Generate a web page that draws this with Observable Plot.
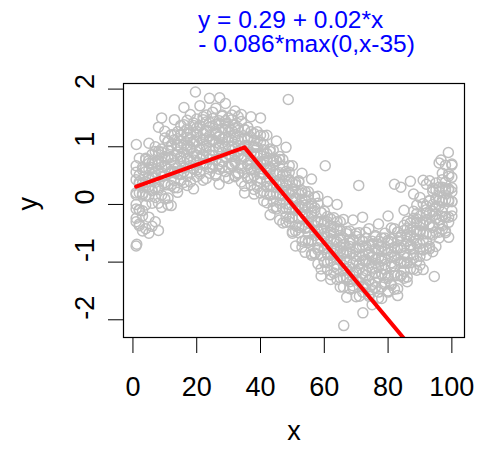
<!DOCTYPE html>
<html><head><meta charset="utf-8">
<script src="https://cdn.jsdelivr.net/npm/d3@7"></script>
<script src="https://cdn.jsdelivr.net/npm/@observablehq/plot@0.6"></script>
<style>body{margin:0;background:#fff} svg{font-family:"Liberation Sans",Arial,sans-serif}</style>
</head><body><div id="chart"></div>
<script>
const xStart = 1;
const yByX = [
[-0.30,0.17,0.43,0.00,0.67],[0.36,-0.09,0.80,-0.37,0.20],[0.16,0.64,-0.11,0.36,-0.46],[0.57,0.15,0.78,-0.42,0.39],[0.14,1.06,0.31,0.71,-0.50],
[0.52,-0.38,0.64,0.24,0.87],[1.00,-0.30,0.46,0.73,0.38],[-0.45,0.69,0.92,0.29,1.34],[-0.05,0.65,0.91,0.48,1.50],[0.83,0.38,1.27,0.10,0.67],
[0.61,1.09,0.34,0.81,-0.01],[1.00,0.58,1.21,-0.02,0.82],[0.55,1.47,0.72,1.12,0.29],[0.91,0.21,1.03,0.63,1.26],[1.37,0.52,0.83,1.10,0.75],
[0.38,1.03,1.26,0.63,1.68],[0.49,0.96,1.22,0.79,1.46],[1.12,0.67,1.56,0.39,0.96],[0.89,1.37,0.62,1.09,0.27],[1.27,0.85,1.48,0.60,1.09],
[0.79,1.71,0.96,1.36,0.53],[1.12,0.42,1.24,0.84,1.47],[1.55,0.70,1.01,1.28,0.93],[0.54,1.19,1.42,0.79,1.84],[0.63,1.10,1.36,0.93,1.60],
[1.23,0.78,1.67,0.50,1.07],[0.97,1.45,0.70,1.17,0.35],[1.32,0.90,1.53,0.65,1.14],[0.83,1.75,1.00,1.40,0.57],[1.15,0.45,1.27,0.87,1.50],
[1.55,0.70,1.01,1.28,0.93],[0.50,1.15,1.38,0.75,1.62],[0.55,1.02,1.28,0.85,1.52],[1.12,0.67,1.56,0.39,0.96],[0.82,1.30,0.55,1.02,0.20],
[1.13,0.71,1.34,0.46,0.95],[0.60,1.52,0.77,1.17,0.34],[0.88,0.18,1.00,0.60,1.23],[1.26,0.41,0.72,0.99,0.64],[0.20,0.85,1.08,0.45,1.50],
[0.22,0.69,0.95,0.52,1.19],[0.76,0.31,1.20,0.03,0.60],[0.44,0.92,0.17,0.64,-0.18],[0.73,0.31,0.94,0.06,0.55],[0.18,1.10,0.35,0.75,-0.08],
[0.43,-0.27,0.55,0.15,0.78],[0.78,-0.07,0.24,0.51,0.16],[-0.31,0.34,0.57,-0.06,0.99],[-0.30,0.17,0.43,0.00,0.67],[0.23,-0.22,0.67,-0.50,0.07],
[-0.10,0.38,-0.37,0.10,-0.72],[0.18,-0.24,0.39,-0.49,0.00],[-0.38,0.54,-0.21,0.19,-0.64],[-0.13,-0.83,-0.01,-0.41,0.22],[0.22,-0.63,-0.32,-0.05,-0.40],
[-0.86,-0.21,0.02,-0.61,0.44],[-0.84,-0.37,-0.11,-0.54,0.13],[-0.30,-0.75,0.14,-1.03,-0.46],[-0.62,-0.14,-0.89,-0.42,-1.24],[-0.33,-0.75,-0.12,-1.00,-0.51],
[-0.87,0.05,-0.70,-0.30,-1.13],[-0.60,-1.30,-0.48,-0.88,-0.25],[-0.23,-1.08,-0.77,-0.50,-0.85],[-1.30,-0.65,-0.42,-1.05,0.00],[-1.27,-0.80,-0.54,-0.97,-0.30],
[-0.70,-1.15,-0.26,-1.43,-0.86],[-0.99,-0.51,-1.26,-0.79,-1.61],[-0.67,-1.09,-0.46,-1.34,-0.85],[-1.19,-0.27,-1.02,-0.62,-1.45],[-0.90,-1.60,-0.78,-1.18,-0.55],
[-0.49,-1.34,-1.03,-0.76,-1.11],[-1.52,-0.87,-0.64,-1.27,-0.22],[-1.45,-0.98,-0.72,-1.15,-0.48],[-0.86,-1.31,-0.42,-1.59,-1.02],[-1.12,-0.64,-1.39,-0.92,-1.74],
[-0.77,-1.19,-0.56,-1.44,-0.95],[-1.26,-0.34,-1.09,-0.69,-1.52],[-0.93,-1.63,-0.81,-1.21,-0.58],[-0.50,-1.35,-1.04,-0.77,-1.12],[-1.50,-0.85,-0.62,-1.25,-0.20],
[-1.38,-0.91,-0.65,-1.08,-0.41],[-0.74,-1.19,0.35,-1.47,-0.90],[-0.96,-0.48,-1.23,-0.76,-1.58],[-0.57,-0.99,0.30,-1.24,-0.75],[-1.02,-0.10,-0.85,-0.45,-1.28],
[-0.64,-1.34,-0.52,-0.92,-0.29],[0.40,-1.01,-0.70,-0.43,-0.78],[-1.12,-0.47,-0.24,-0.87,0.18],[-0.98,-0.51,-0.25,-0.68,-0.01],[-0.32,-0.77,0.12,-1.05,-0.48],
[-0.51,0.42,-0.78,-0.31,-1.13],[-0.09,-0.51,0.35,-0.76,-0.27],[-0.51,0.41,-0.34,0.06,-0.77],[-0.12,-0.82,0.00,-0.40,0.23],[0.37,-0.48,-0.17,0.10,-0.25],
[-0.58,0.07,0.30,-0.33,0.72],[-0.43,0.04,0.30,-0.13,0.54],[0.24,-0.21,0.68,-0.49,0.08],[0.05,0.53,-0.22,0.25,-0.57],[0.47,0.05,0.68,-0.20,0.29]
];
const yByX2 = [
[0.20,-0.24,0.56,-0.08],[-0.10,0.39,-0.34,0.51],[0.60,0.19,-0.20,0.38],[0.15,0.80,0.32,-0.01],[0.61,-0.22,0.47,0.76],
[0.02,0.72,0.24,0.47],[0.56,0.12,0.92,0.28],[0.26,0.75,0.02,0.87],[0.96,0.55,0.16,0.74],[0.50,1.15,0.67,0.34],
[0.94,0.11,0.80,1.09],[0.33,1.03,0.55,0.78],[0.85,0.41,1.21,0.57],[0.53,1.02,0.29,1.14],[1.21,0.80,0.41,0.99],
[0.73,1.38,0.90,0.57],[1.16,0.33,1.02,1.31],[0.54,1.24,0.76,0.99],[1.05,0.61,1.41,0.77],[0.72,1.21,0.48,1.33],
[1.37,0.96,0.57,1.15],[0.87,1.52,1.04,0.71],[1.28,0.45,1.14,1.43],[0.64,1.34,0.86,1.09],[1.13,0.69,1.49,0.85],
[0.77,1.26,0.53,1.38],[1.41,1.00,0.61,1.19],[0.90,1.55,1.07,0.74],[1.30,0.47,1.16,1.45],[0.65,1.35,0.87,1.10],
[1.11,0.67,1.47,0.83],[0.72,1.21,0.48,1.33],[1.33,0.92,0.53,1.11],[0.79,1.44,0.96,0.63],[1.15,0.32,1.01,1.30],
[0.46,1.16,0.68,0.91],[0.90,0.46,1.26,0.62],[0.50,0.99,0.26,1.11],[1.10,0.69,0.30,0.88],[0.55,1.20,0.72,0.39],
[0.89,0.06,0.75,1.04],[0.18,0.88,0.40,0.63],[0.60,0.16,0.96,0.32],[0.18,0.67,-0.06,0.79],[0.76,0.35,-0.04,0.54],
[0.18,0.83,0.35,0.02],[0.51,-0.32,0.37,0.66],[-0.21,0.49,0.01,0.24],[0.20,-0.24,0.56,-0.08],[-0.23,0.26,-0.47,0.38],
[0.34,-0.07,-0.46,0.12],[-0.24,0.41,-0.07,-0.40],[0.09,-0.74,-0.05,0.24],[-0.63,0.07,-0.41,-0.18],[-0.22,-0.66,0.14,-0.50],
[-0.64,-0.15,-0.88,-0.03],[-0.06,-0.47,-0.86,-0.28],[-0.63,0.02,-0.46,-0.79],[-0.29,-1.12,-0.43,-0.14],[-1.00,-0.30,-0.78,-0.55],
[-0.57,-1.01,-0.21,-0.85],[-0.98,-0.49,-1.22,-0.37],[-0.39,-0.80,-1.19,-0.61],[-0.95,-0.30,-0.78,-1.11],[-0.60,-1.43,-0.74,-0.45],
[-1.28,-0.58,-1.06,-0.83],[-0.83,-1.27,-0.47,-1.11],[-1.22,-0.73,-1.46,-0.61],[-0.61,-1.02,-1.41,-0.83],[-1.15,-0.50,-0.98,-1.31],
[-0.76,-1.59,-0.90,-0.61],[-1.42,-0.72,-1.20,-0.97],[-0.95,-1.39,-0.59,-1.23],[-1.32,-0.83,-1.56,-0.71],[-0.68,-1.09,-1.48,-0.90],
[-1.19,-0.54,-1.02,-1.35],[-0.79,-1.62,-0.93,-0.64],[-1.43,-0.73,-1.21,-0.98],[-0.94,-1.38,-0.58,-1.22],[-1.28,-0.79,-1.52,-0.67],
[-0.60,-1.01,-1.40,-0.82],[-1.07,-0.42,-0.90,-1.23],[-0.63,-1.46,-0.77,-0.48],[-1.24,-0.54,-1.02,-0.79],[-0.72,-1.16,-0.36,-1.00],
[-1.02,-0.53,-1.26,-0.41],[-0.32,-0.73,-1.12,-0.54],[-0.77,-0.12,-0.60,-0.93],[-0.31,-1.14,-0.45,-0.16],[-0.90,-0.20,-0.68,-0.45],
[-0.35,-0.79,0.01,-0.63],[-0.64,-0.15,-0.88,-0.03],[0.07,-0.34,-0.73,-0.15],[-0.37,0.28,-0.20,-0.53],[0.10,-0.73,-0.04,0.25],
[-0.48,0.22,-0.26,-0.03],[0.07,-0.37,0.43,-0.21],[-0.22,0.27,-0.46,0.39],[0.49,0.08,-0.31,0.27],[0.05,0.70,0.22,-0.11]
];
const extraX = [1, 1.2, 1.06, 19.6, 27.2, 48.7, 60.3, 70.8, 66.1, 72.1, 94.5, 98.9, 96.6];
const extraY = [-0.72, -0.69, 1.04, 1.95, 1.85, 1.82, 0.67, 0.33, -2.10, -1.88, -1.25, 0.90, 0.77];
const fitX = [1, 35, 100];
const fitY = [0.31, 0.99, -3.32];
const xTicks = [0, 20, 40, 60, 80, 100];
const yTicks = [-2, -1, 0, 1, 2];
const titleLines = ["y = 0.29 + 0.02*x", "- 0.086*max(0,x-35)"];
const xLabel = "x", yLabel = "y";

const points = yByX.flatMap((ys, i) => ys.map(y => ({x: xStart + i, y})))
  .concat(yByX2.flatMap((ys, i) => ys.map(y => ({x: xStart + i, y}))))
  .concat(extraX.map((x, i) => ({x, y: extraY[i]})));
const fit = fitX.map((x, i) => ({x, y: fitY[i]}));
const font = '"Liberation Sans",Arial,sans-serif';
const fs = 27;
const tfs = 24.5;

const chart = Plot.plot({
  width: 479, height: 453,
  marginLeft: 123, marginRight: 15, marginTop: 83, marginBottom: 116,
  x: {domain: [-2.96, 103.96]},
  y: {domain: [-2.307, 2.097]},
  style: {fontFamily: font, fontSize: fs + "px", color: "black", background: "white"},
  marks: [
    Plot.dot(points, {x: "x", y: "y", r: 5, stroke: "#bebebe", strokeWidth: 1.5, fill: "none"}),
    Plot.line(fit, {x: "x", y: "y", stroke: "red", strokeWidth: 4, clip: true}),
    Plot.frame({stroke: "black", strokeWidth: 1.2}),
    Plot.axisX({ticks: xTicks, tickSize: 16, tickPadding: 23, fontSize: fs, label: null, tickFormat: d => String(d)}),
    Plot.axisY({ticks: yTicks, tickSize: 15, tickFormat: () => "", label: null}),
    Plot.text(yTicks, {y: d => d, text: d => String(d), frameAnchor: "left", rotate: -90, dx: -38.5, fontSize: fs}),
    Plot.text([yLabel], {text: d => d, frameAnchor: "left", rotate: -90, dx: -95, fontSize: fs}),
    Plot.text([xLabel], {text: d => d, frameAnchor: "bottom", dy: 102, fontSize: fs}),
    Plot.text([titleLines[0]], {text: d => d, frameAnchor: "top", dx: -3.4, dy: -73, fill: "blue", fontSize: tfs}),
    Plot.text([titleLines[1]], {text: d => d, frameAnchor: "top", dx: 12.6, dy: -48.5, fill: "blue", fontSize: tfs})
  ]
});
document.getElementById("chart").appendChild(chart);
</script>
</body></html>
